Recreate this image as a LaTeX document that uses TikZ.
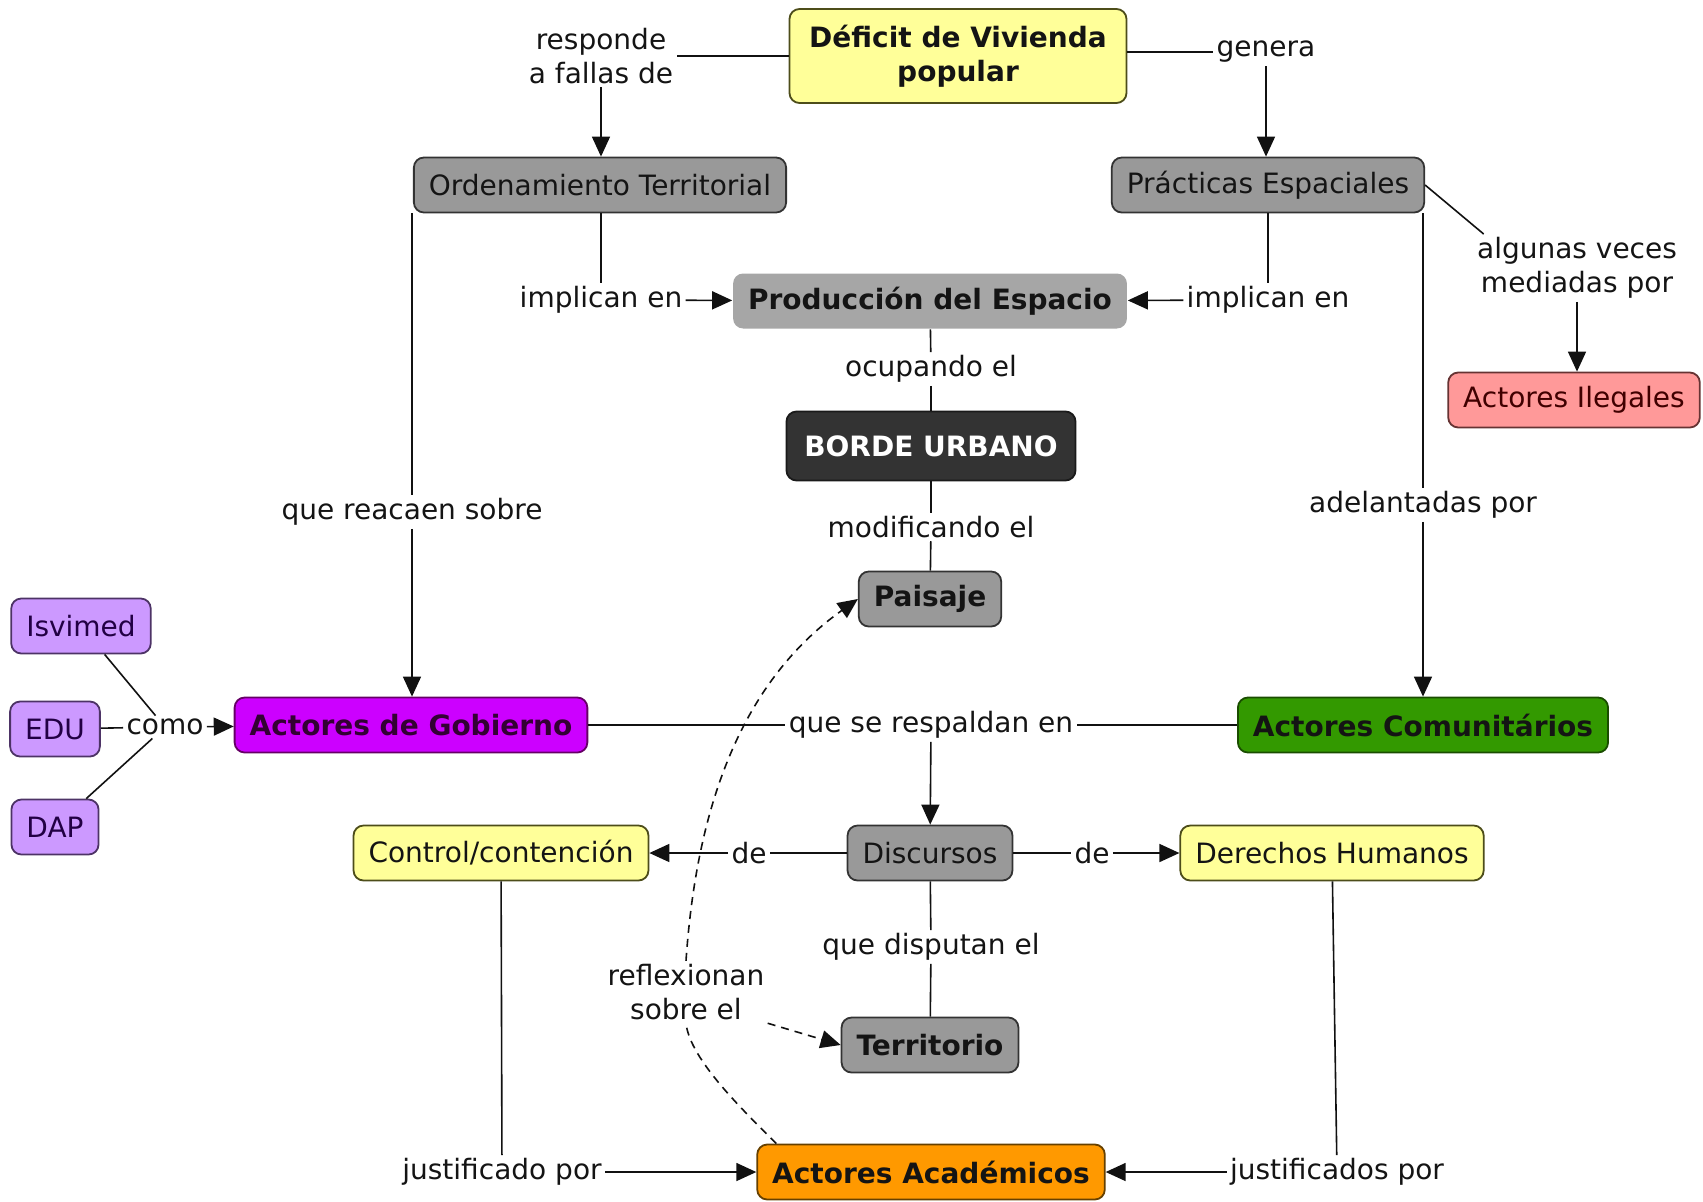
\documentclass[tikz,border=0pt]{standalone}
\usepackage{fontspec}
\setmainfont{DejaVu Sans}
\usepackage{xcolor}
\usetikzlibrary{arrows.meta}
\definecolor{ink}{HTML}{141414}
\definecolor{edge}{HTML}{111111}
\definecolor{cYellow}{HTML}{FFFF99}
\definecolor{dYellow}{HTML}{4D4D1A}
\definecolor{cGray}{HTML}{999999}
\definecolor{cGrayL}{HTML}{A6A6A6}
\definecolor{dGray}{HTML}{333333}
\definecolor{cDark}{HTML}{333333}
\definecolor{dDark}{HTML}{1A1A1A}
\definecolor{cRed}{HTML}{FF9999}
\definecolor{dRed}{HTML}{663333}
\definecolor{tRed}{HTML}{400000}
\definecolor{cLila}{HTML}{CC99FF}
\definecolor{dLila}{HTML}{4D3366}
\definecolor{tLila}{HTML}{220044}
\definecolor{cPurple}{HTML}{CC00FF}
\definecolor{dPurple}{HTML}{660066}
\definecolor{tPurple}{HTML}{330033}
\definecolor{cGreen}{HTML}{339900}
\definecolor{dGreen}{HTML}{1A4D00}
\definecolor{cOrange}{HTML}{FF9900}
\definecolor{dOrange}{HTML}{664000}

\begin{document}
\begin{tikzpicture}[x=0.5pt,y=0.5pt,font=\fontsize{14}{17}\selectfont,
  concept/.style={rounded corners=5pt,line width=0.9pt,inner xsep=7.5pt,inner ysep=3pt,minimum height=27.5pt,align=center,text=ink},
  bconcept/.style={concept,font=\fontsize{14}{17}\selectfont\bfseries},
  phrase/.style={inner sep=1.5pt,align=center,text=ink},
  conn/.style={draw=edge,line width=0.8pt},
  arr/.style={conn,-{Triangle[length=10pt,width=9pt]}}]
\useasboundingbox (0,0) rectangle (1703,-1201);

% conceptos
\node[bconcept,fill=cYellow,draw=dYellow,minimum width=168.5pt,minimum height=47pt] (def) at (958,-56) {Déficit de Vivienda\\popular};
\node[concept,fill=cGray,draw=dGray] (ord) at (600,-185) {Ordenamiento Territorial};
\node[concept,fill=cGray,draw=dGray] (prac) at (1268,-185) {Prácticas Espaciales};
\node[bconcept,fill=cGrayL,draw=none] (prod) at (930,-301) {Producción del Espacio};
\node[bconcept,fill=cDark,draw=dDark,text=white,minimum width=144.5pt,minimum height=34.5pt] (borde) at (931,-446) {BORDE URBANO};
\node[bconcept,fill=cGray,draw=dGray] (pais) at (930,-599) {Paisaje};
\node[concept,fill=cRed,draw=dRed,text=tRed] (ileg) at (1574,-400) {Actores Ilegales};
\node[concept,fill=cLila,draw=dLila,text=tLila] (isv) at (81,-626) {Isvimed};
\node[concept,fill=cLila,draw=dLila,text=tLila] (edu) at (55,-729) {EDU};
\node[concept,fill=cLila,draw=dLila,text=tLila] (dap) at (55,-827) {DAP};
\node[bconcept,fill=cPurple,draw=dPurple,text=tPurple] (gob) at (411,-725) {Actores de Gobierno};
\node[bconcept,fill=cGreen,draw=dGreen] (com) at (1423,-725) {Actores Comunitários};
\node[concept,fill=cGray,draw=dGray] (disc) at (930,-853) {Discursos};
\node[concept,fill=cYellow,draw=dYellow] (ctrl) at (501,-853) {Control/contención};
\node[concept,fill=cYellow,draw=dYellow] (der) at (1332,-853) {Derechos Humanos};
\node[bconcept,fill=cGray,draw=dGray] (terr) at (930,-1045) {Territorio};
\node[bconcept,fill=cOrange,draw=dOrange] (acad) at (931,-1172) {Actores Académicos};

% frases de enlace
\node[phrase] (resp) at (601,-56) {responde\\a fallas de};
\node[phrase] (gen) at (1266,-52) {genera};
\node[phrase] (imp1) at (601,-300) {implican en};
\node[phrase] (imp2) at (1268,-300) {implican en};
\node[phrase] (alg) at (1577,-268) {algunas veces\\mediadas por};
\node[phrase] (ocup) at (931,-369) {ocupando el};
\node[phrase] (modif) at (931,-527) {modificando el};
\node[phrase] (reac) at (412,-512) {que reacaen sobre};
\node[phrase] (adel) at (1423,-505) {adelantadas por};
\node[phrase] (como) at (165,-727) {como};
\node[phrase] (resp2) at (931,-725) {que se respaldan en};
\node[phrase] (de1) at (749,-853) {de};
\node[phrase] (de2) at (1092,-853) {de};
\node[phrase] (disp) at (931,-947) {que disputan el};
\node[phrase] (refl) at (686,-992) {reflexionan\\sobre el};
\node[phrase] (just1) at (502,-1172) {justificado por};
\node[phrase] (just2) at (1337,-1172) {justificados por};

% conexiones
\draw[conn] (def) -- (resp);
\draw[arr] (resp) -- (resp |- ord.north);
\draw[conn] (def.east |- gen.west) -- (gen.west);
\draw[arr] (gen) -- (gen |- prac.north);
\draw[conn] (ord.south -| imp1) -- (imp1);
\draw[arr] (imp1) -- (prod);
\draw[conn] (prac) -- (imp2);
\draw[arr] (imp2) -- (prod);
\draw[conn] (prac.east) -- (alg.160);
\draw[arr] (alg) -- (alg |- ileg.north);
\draw[conn] (ord.south -| reac) -- (reac);
\draw[arr] (reac) -- (reac |- gob.north);
\draw[conn] (prac.south -| adel) -- (adel);
\draw[arr] (adel) -- (com);
\draw[conn] (prod) -- (ocup);
\draw[conn] (ocup) -- (borde);
\draw[conn] (borde) -- (modif);
\draw[conn] (modif) -- (pais);
\foreach \n in {isv,edu,dap}
  \draw[conn] (\n) -- (como);
\draw[arr] (como) -- (gob);
\draw[conn] (gob) -- (resp2);
\draw[conn] (com) -- (resp2);
\draw[arr] (resp2) -- (disc);
\draw[conn] (disc) -- (de1);
\draw[arr] (de1) -- (ctrl);
\draw[conn] (disc) -- (de2);
\draw[arr] (de2) -- (der);
\draw[conn] (disc) -- (disp);
\draw[conn] (disp) -- (terr);
\draw[conn] (ctrl) -- (just1);
\draw[arr] (just1) -- (acad);
\draw[conn] (der) -- (just2);
\draw[arr] (just2) -- (acad);
\draw[conn,dash pattern=on 4pt off 3pt] ([xshift=10pt]acad.north west) .. controls (745,-1112) and (690,-1060) .. (refl.south);
\draw[arr,dash pattern=on 4pt off 3pt] (refl.north) .. controls (695,-830) and (730,-690) .. (pais.west);
\draw[arr,dash pattern=on 4pt off 3pt] (refl.south east) -- (terr.west);
\end{tikzpicture}
\end{document}
